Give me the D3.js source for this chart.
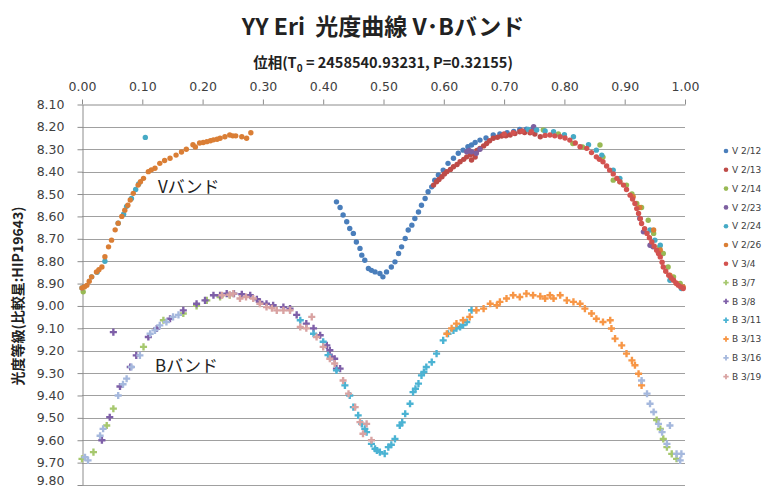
<!DOCTYPE html>
<html><head><meta charset="utf-8">
<script src="https://cdn.jsdelivr.net/npm/d3@7"></script>
<style>body{margin:0;background:#fff}svg{display:block}</style>
</head><body><svg id="c" width="765" height="488"></svg>
<script>
const xTicks=[0,0.1,0.2,0.3,0.4,0.5,0.6,0.7,0.8,0.9,1.0];
const yTicks=[8.1,8.2,8.3,8.4,8.5,8.6,8.7,8.8,8.9,9.0,9.1,9.2,9.3,9.4,9.5,9.6,9.7,9.8];
const seriesNames=["V 2/12","V 2/13","V 2/14","V 2/23","V 2/24","V 2/26","V 3/4","B 3/7","B 3/8","B 3/11","B 3/13","B 3/16","B 3/19"];
const seriesColors=["#4A7EBB","#BE4B48","#98B954","#7D60A0","#46AAC5","#DA7E35","#D35350","#A6C86E","#7E5FA8","#4BB3D3","#F79646","#A5B8DD","#D9A3A2"];
const v0212=[[0.422,8.535],[0.428,8.56],[0.433,8.594],[0.439,8.624],[0.444,8.654],[0.450,8.676],[0.455,8.714],[0.461,8.743],[0.464,8.773],[0.469,8.796],[0.475,8.833],[0.480,8.841],[0.486,8.848],[0.494,8.855],[0.499,8.870],[0.505,8.848],[0.513,8.826],[0.519,8.803],[0.525,8.766],[0.530,8.736],[0.536,8.699],[0.541,8.661],[0.547,8.639],[0.552,8.609],[0.558,8.58],[0.563,8.55],[0.569,8.52],[0.574,8.49],[0.580,8.468],[0.585,8.438],[0.591,8.415],[0.599,8.393],[0.607,8.363],[0.616,8.34],[0.624,8.318],[0.632,8.304],[0.640,8.289],[0.646,8.281],[0.652,8.27],[0.660,8.259],[0.670,8.25],[0.682,8.236],[0.693,8.232],[0.705,8.226],[0.716,8.22],[0.726,8.211],[0.737,8.21],[0.748,8.206]];
const v0213=[[0.583,8.46],[0.588,8.445],[0.592,8.435],[0.597,8.423],[0.601,8.41],[0.605,8.40],[0.611,8.39],[0.616,8.378],[0.622,8.368],[0.627,8.356],[0.633,8.345],[0.638,8.334],[0.644,8.325],[0.646,8.348],[0.649,8.318],[0.652,8.335],[0.655,8.305],[0.660,8.296],[0.666,8.285],[0.671,8.274],[0.676,8.262],[0.682,8.251],[0.689,8.246],[0.696,8.241],[0.703,8.24],[0.710,8.236],[0.718,8.23],[0.726,8.222],[0.734,8.225],[0.743,8.226],[0.751,8.232],[0.760,8.244]];
const v0214=[[0.002,8.937],[0.765,8.214],[0.790,8.232],[0.814,8.274],[0.830,8.29],[0.859,8.281],[0.864,8.335],[0.881,8.438],[0.892,8.445],[0.903,8.46],[0.912,8.50],[0.920,8.542],[0.928,8.56],[0.939,8.617],[0.948,8.676],[0.958,8.736],[0.964,8.766],[0.972,8.826],[0.981,8.87],[0.992,8.9]];
const v0223=[[0.638,8.311],[0.642,8.305],[0.646,8.311],[0.654,8.318],[0.660,8.30],[0.749,8.199],[0.925,8.609],[0.931,8.669],[0.942,8.729],[0.947,8.736]];
const v0224=[[0.000,8.92],[0.016,8.87],[0.025,8.85],[0.038,8.80],[0.060,8.63],[0.069,8.59],[0.074,8.555],[0.082,8.52],[0.089,8.48],[0.094,8.455],[0.105,8.247],[0.740,8.212],[0.754,8.214],[0.768,8.218],[0.782,8.222],[0.800,8.235],[0.815,8.244],[0.840,8.28],[0.853,8.304],[0.862,8.326],[0.881,8.393],[0.892,8.43],[0.942,8.661],[0.950,8.706],[0.959,8.729],[0.975,8.885],[0.994,8.922]];
const v0226=[[0.000,8.92],[0.004,8.915],[0.008,8.908],[0.012,8.89],[0.016,8.87],[0.024,8.848],[0.028,8.838],[0.033,8.826],[0.038,8.78],[0.044,8.736],[0.049,8.706],[0.055,8.66],[0.060,8.63],[0.066,8.60],[0.071,8.572],[0.076,8.55],[0.080,8.527],[0.085,8.497],[0.093,8.46],[0.097,8.445],[0.102,8.43],[0.110,8.40],[0.115,8.392],[0.121,8.385],[0.129,8.363],[0.137,8.35],[0.146,8.34],[0.156,8.326],[0.165,8.312],[0.173,8.30],[0.184,8.28],[0.188,8.29],[0.195,8.272],[0.201,8.27],[0.207,8.266],[0.213,8.262],[0.218,8.258],[0.224,8.255],[0.229,8.251],[0.237,8.244],[0.245,8.236],[0.250,8.24],[0.255,8.24],[0.265,8.244],[0.273,8.251],[0.280,8.226],[0.914,8.512],[0.925,8.56],[0.948,8.661],[0.959,8.75],[0.975,8.863],[0.986,8.90],[0.997,8.915]];
const v0304=[[0.700,8.232],[0.715,8.226],[0.730,8.218],[0.745,8.222],[0.768,8.238],[0.776,8.236],[0.784,8.24],[0.793,8.244],[0.801,8.25],[0.809,8.259],[0.818,8.272],[0.826,8.289],[0.837,8.296],[0.845,8.315],[0.853,8.334],[0.858,8.345],[0.864,8.356],[0.870,8.375],[0.875,8.393],[0.881,8.41],[0.887,8.43],[0.892,8.445],[0.898,8.46],[0.903,8.48],[0.909,8.505],[0.913,8.522],[0.917,8.542],[0.920,8.565],[0.923,8.587],[0.926,8.61],[0.928,8.632],[0.933,8.655],[0.937,8.676],[0.941,8.695],[0.945,8.714],[0.949,8.733],[0.953,8.751],[0.956,8.766],[0.959,8.781],[0.962,8.805],[0.964,8.826],[0.968,8.845],[0.973,8.863],[0.977,8.875],[0.981,8.885],[0.985,8.897],[0.989,8.908],[0.993,8.915],[0.997,8.922]];
const b0307=[[0.000,9.683],[0.019,9.653],[0.041,9.534],[0.052,9.459],[0.102,9.183],[0.135,9.064],[0.168,9.034],[0.190,9.0],[0.207,8.975],[0.229,8.96],[0.245,8.952],[0.953,9.51],[0.959,9.55],[0.964,9.594],[0.970,9.631],[0.978,9.661],[0.986,9.683]];
const b0308=[[0.033,9.60],[0.046,9.497],[0.052,9.117],[0.063,9.36],[0.080,9.273],[0.090,9.221],[0.110,9.139],[0.124,9.101],[0.146,9.057],[0.168,9.02],[0.190,8.99],[0.204,8.975],[0.218,8.952],[0.229,8.952],[0.240,8.945],[0.252,8.945],[0.265,8.948],[0.279,8.952],[0.290,8.97],[0.295,8.982],[0.306,8.99],[0.317,8.997],[0.334,9.005],[0.345,9.012],[0.356,9.04],[0.372,9.079],[0.384,9.10],[0.395,9.131],[0.406,9.176],[0.411,9.198],[0.414,9.228],[0.419,9.236],[0.422,9.28],[0.428,9.28]];
const b0311=[[0.362,9.064],[0.384,9.124],[0.400,9.16],[0.408,9.22],[0.422,9.288],[0.436,9.355],[0.444,9.40],[0.450,9.452],[0.458,9.489],[0.464,9.527],[0.469,9.549],[0.472,9.564],[0.480,9.616],[0.486,9.638],[0.489,9.646],[0.494,9.653],[0.502,9.66],[0.508,9.631],[0.513,9.62],[0.519,9.594],[0.527,9.534],[0.531,9.52],[0.536,9.482],[0.544,9.437],[0.549,9.385],[0.553,9.37],[0.558,9.347],[0.563,9.31],[0.567,9.295],[0.571,9.273],[0.580,9.251],[0.588,9.213],[0.599,9.154],[0.607,9.124],[0.616,9.109],[0.621,9.10],[0.627,9.094],[0.632,9.085],[0.638,9.072],[0.646,9.019]];
const b0313=[[0.605,9.124],[0.613,9.10],[0.621,9.079],[0.632,9.064],[0.643,9.049],[0.654,9.019],[0.666,9.012],[0.677,8.99],[0.688,8.997],[0.693,8.982],[0.704,8.967],[0.715,8.952],[0.726,8.96],[0.737,8.945],[0.748,8.952],[0.760,8.957],[0.768,8.967],[0.776,8.952],[0.782,8.967],[0.793,8.952],[0.804,8.975],[0.815,8.982],[0.826,8.99],[0.834,9.012],[0.845,9.034],[0.853,9.057],[0.864,9.072],[0.876,9.064],[0.878,9.101],[0.884,9.146],[0.895,9.176],[0.903,9.213],[0.912,9.243],[0.917,9.265],[0.923,9.303],[0.928,9.355]];
const b0316=[[0.005,9.676],[0.010,9.69],[0.030,9.58],[0.035,9.549],[0.060,9.40],[0.068,9.35],[0.074,9.325],[0.082,9.273],[0.096,9.221],[0.113,9.124],[0.121,9.109],[0.129,9.087],[0.140,9.072],[0.151,9.049],[0.160,9.04],[0.928,9.333],[0.937,9.392],[0.942,9.437],[0.948,9.474],[0.956,9.527],[0.962,9.564],[0.970,9.616],[0.975,9.534],[0.986,9.661],[0.992,9.69],[0.994,9.661]];
const b0319=[[0.232,8.952],[0.245,8.95],[0.251,8.945],[0.262,8.967],[0.272,8.96],[0.284,8.967],[0.295,8.99],[0.306,9.005],[0.315,9.01],[0.323,9.02],[0.334,9.02],[0.345,9.02],[0.362,9.094],[0.372,9.10],[0.381,9.049],[0.389,9.139],[0.400,9.183],[0.411,9.236],[0.419,9.257],[0.433,9.333],[0.442,9.392],[0.453,9.452],[0.461,9.519],[0.466,9.571],[0.472,9.527],[0.480,9.60]];
const seriesData=[v0212,v0213,v0214,v0223,v0224,v0226,v0304,b0307,b0308,b0311,b0313,b0316,b0319];

const svg=d3.select("#c");
const x=d3.scaleLinear().domain([0,1]).range([82,685]);
const y=d3.scaleLinear().domain([8.1,9.8]).range([104.5,485]);
const FONT="'DejaVu Sans',Verdana,sans-serif";
const CJK="'Noto Sans CJK JP','Noto Sans',sans-serif";

// grid
svg.append("g").selectAll("line").data(yTicks.slice(1)).join("line")
 .attr("x1",x(0)).attr("x2",x(1)).attr("y1",d=>Math.round(y(d))+0.5).attr("y2",d=>Math.round(y(d))+0.5)
 .attr("stroke","#A0A0A0").attr("stroke-width",1);

const gx=svg.append("g").attr("transform","translate(0,104.5)")
 .call(d3.axisTop(x).tickValues(xTicks).tickFormat(d3.format(".2f")).tickSize(5).tickSizeOuter(0).tickPadding(9));
const gy=svg.append("g").attr("transform","translate(82.5,0)")
 .call(d3.axisLeft(y).tickValues(yTicks).tickFormat(d3.format(".2f")).tickSize(5).tickSizeOuter(0).tickPadding(13));
[gx,gy].forEach(g=>{
 g.selectAll("path,line").attr("stroke","#8C8C8C");
 g.selectAll("text").attr("fill","#404040").style("font-family",FONT).style("font-size","12.5px");
});
// keep the bottom label inside the frame
gy.selectAll(".tick text").filter(d=>d===9.8).attr("dy","-0.05em");

// points
seriesData.forEach((data,i)=>{
 const isB=seriesNames[i].startsWith("B");
 const g=svg.append("g").attr("fill",seriesColors[i]);
 if(isB){
  g.selectAll("path").data(data).join("path")
   .attr("d",d3.symbol(d3.symbolCross,28))
   .attr("transform",d=>`translate(${x(d[0])},${y(d[1])})`);
 } else {
  g.selectAll("circle").data(data).join("circle")
   .attr("cx",d=>x(d[0])).attr("cy",d=>y(d[1])).attr("r",2.7);
 }
});

// legend
const lg=svg.append("g");
seriesNames.forEach((n,i)=>{
 const cy=151+i*18.8;
 if(n.startsWith("B")) lg.append("path").attr("d",d3.symbol(d3.symbolCross,16)()).attr("transform",`translate(726,${cy})`).attr("fill",seriesColors[i]);
 else lg.append("circle").attr("cx",726).attr("cy",cy).attr("r",2.3).attr("fill",seriesColors[i]);
 lg.append("text").attr("x",732).attr("y",cy+3.2).text(n).attr("fill","#404040")
  .style("font-family",FONT).style("font-size","9px");
});

// titles
svg.append("text").attr("x",383).attr("y",35).attr("text-anchor","middle")
 .style("font-family",CJK).style("font-weight","bold").style("font-size","23px").attr("fill","#222")
 .attr("xml:space","preserve").text("YY Eri  光度曲線 V･Bバンド");
const st=svg.append("text").attr("x",383).attr("y",68).attr("text-anchor","middle")
 .style("font-family",CJK).style("font-weight","bold").style("font-size","14.5px").attr("fill","#222");
st.append("tspan").text("位相(T");
st.append("tspan").text("0").attr("dy",4).style("font-size","10px");
st.append("tspan").text(" = 2458540.93231, P=0.32155)").attr("dy",-4);

svg.append("text").attr("transform","translate(23,296) rotate(-90)").attr("text-anchor","middle")
 .style("font-family",CJK).style("font-weight","bold").style("font-size","14px").attr("fill","#222")
 .text("光度等級(比較星:HIP19643)");

svg.append("text").attr("x",158).attr("y",193).style("font-family",CJK).style("font-size","17px").attr("fill","#222").text("Vバンド");
svg.append("text").attr("x",155).attr("y",372).style("font-family",CJK).style("font-size","17px").attr("fill","#222").text("Bバンド");
</script></body></html>
